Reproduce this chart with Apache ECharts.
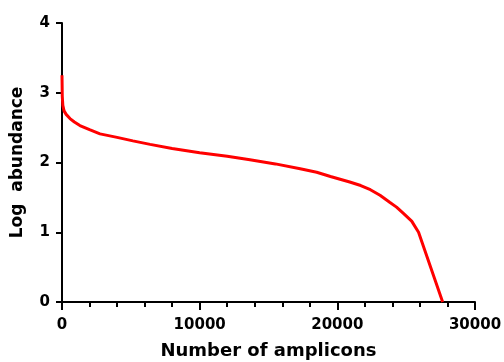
<!DOCTYPE html>
<html>
<head>
<meta charset="utf-8">
<script src="https://cdn.jsdelivr.net/npm/echarts@6/dist/echarts.min.js"></script>
<style>html,body{margin:0;padding:0;background:#fff;}#c{width:504px;height:362px;}</style>
</head>
<body>
<div id="c"></div>
<script>
const amplicons = [0, 20, 60, 150, 300, 580, 900, 1300, 2000, 2760, 4000, 5150, 6400, 8000, 10000, 12000, 13650, 15500, 17300, 18500, 19500, 20900, 21700, 22400, 23100, 23800, 24300, 24800, 25400, 25900, 27650];
const logAbundance = [3.25, 2.95, 2.82, 2.74, 2.69, 2.63, 2.58, 2.53, 2.47, 2.41, 2.36, 2.31, 2.26, 2.20, 2.14, 2.09, 2.04, 1.98, 1.91, 1.86, 1.80, 1.72, 1.67, 1.61, 1.53, 1.43, 1.36, 1.27, 1.16, 1.0, 0];
const xTicks = [0, 10000, 20000, 30000];
const yTicks = [0, 1, 2, 3, 4];
const xTitle = 'Number of amplicons';
const yTitle = 'Log  abundance';

const chart = echarts.init(document.getElementById('c'), null, {renderer: 'canvas'});
const font = 'DejaVu Sans, Liberation Sans, sans-serif';
chart.setOption({
  animation: false,
  grid: {left: 62, right: 29, top: 23, bottom: 60, containLabel: false, outerBoundsMode: 'none'},
  xAxis: {
    type: 'value', min: xTicks[0], max: xTicks[xTicks.length-1], interval: 10000,
    name: xTitle, nameLocation: 'middle', nameGap: 40,
    nameTextStyle: {fontFamily: font, fontWeight: 'bold', fontSize: 18, color: '#000'},
    axisLine: {show: true, lineStyle: {color: '#000', width: 2}},
    axisTick: {show: true, inside: false, length: 8, lineStyle: {color: '#000', width: 2}},
    minorTick: {show: true, splitNumber: 5, length: 5, lineStyle: {color: '#000', width: 2}},
    axisLabel: {fontFamily: font, fontWeight: 'bold', fontSize: 15, color: '#000', margin: 16,
      formatter: v => String(v)},
    splitLine: {show: false}
  },
  yAxis: {
    type: 'value', min: yTicks[0], max: yTicks[yTicks.length-1], interval: 1,
    name: yTitle, nameLocation: 'middle', nameGap: 36, nameRotate: 90,
    nameTextStyle: {fontFamily: font, fontWeight: 'bold', fontSize: 17, color: '#000'},
    axisLine: {show: true, lineStyle: {color: '#000', width: 2}},
    axisTick: {show: true, inside: false, length: 6, lineStyle: {color: '#000', width: 2}},
    axisLabel: {fontFamily: font, fontWeight: 'bold', fontSize: 15, color: '#000', margin: 12,
      formatter: v => String(v)},
    splitLine: {show: false}
  },
  series: [{
    type: 'line',
    data: amplicons.map((x, i) => [x, logAbundance[i]]),
    showSymbol: false,
    smooth: false,
    lineStyle: {color: '#ff0000', width: 3},
    z: 1
  }]
});
</script>
</body>
</html>
